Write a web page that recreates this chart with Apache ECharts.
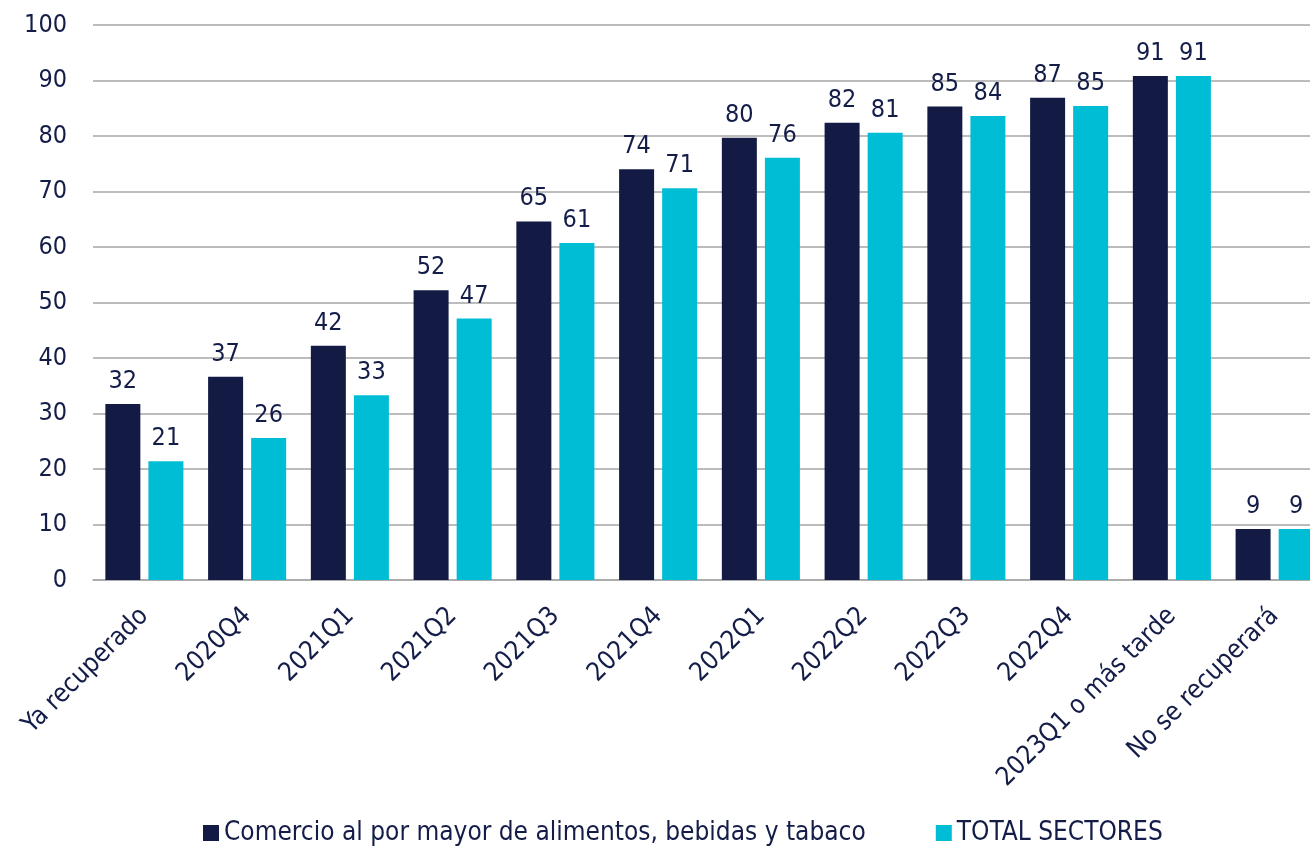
<!DOCTYPE html>
<html>
<head>
<meta charset="utf-8">
<script src="https://cdn.jsdelivr.net/npm/echarts@6/dist/echarts.min.js"></script>
<style>
  html, body { margin: 0; padding: 0; background: #fff; }
  #chart { width: 1310px; height: 846px; }
</style>
</head>
<body>
<div id="chart"></div>
<script>
var categories = ['Ya recuperado', '2020Q4', '2021Q1', '2021Q2', '2021Q3', '2021Q4',
  '2022Q1', '2022Q2', '2022Q3', '2022Q4', '2023Q1 o más tarde', 'No se recuperará']
var comercio = [31.7, 36.6, 42.2, 52.2, 64.6, 74.0, 79.7, 82.4, 85.3, 86.9, 90.8, 9.2]
var total = [21.4, 25.6, 33.3, 47.1, 60.7, 70.6, 76.1, 80.6, 83.6, 85.4, 90.8, 9.2]
var seriesNames = ['Comercio al por mayor de alimentos, bebidas y tabaco', 'TOTAL SECTORES']

var font = "Tahoma, 'DejaVu Sans Condensed', 'DejaVu Sans', sans-serif"
var textColor = '#141c48'

var myChart = echarts.init(document.getElementById('chart'))

// etiquetas encima de cada barra, redondeadas
var label = {
  show: true,
  position: 'top',
  distance: 10,
  color: textColor,
  fontFamily: font,
  fontSize: 25,
  formatter: function (p) { return Math.round(p.value) }
}

var option = {
  color: ['#131b45', '#00bdd6'],
  textStyle: { fontFamily: font },
  // el área del gráfico sobresale por la derecha (la última barra queda cortada)
  grid: { left: 93, width: 1233, top: 25, height: 555, outerBoundsMode: 'none' },
  legend: {
    top: 815,
    left: 198,
    itemWidth: 16,
    itemHeight: 16,
    itemGap: 70,
    icon: 'rect',
    textStyle: { color: textColor, fontFamily: font, fontSize: 26 },
    data: seriesNames
  },
  xAxis: {
    type: 'category',
    data: categories,
    axisLine: { lineStyle: { color: '#a6a6a6', width: 1.5 } },
    axisTick: { show: false },
    axisLabel: {
      rotate: 45,
      interval: 0,
      margin: 32,
      color: textColor,
      fontFamily: font,
      fontSize: 26
    }
  },
  yAxis: {
    type: 'value',
    min: 0,
    max: 100,
    interval: 10,
    axisLine: { show: false },
    axisTick: { show: false },
    axisLabel: { margin: 26, color: textColor, fontFamily: font, fontSize: 25 },
    splitLine: { lineStyle: { color: '#a6a6a6', width: 1.5 } }
  },
  series: [
    {
      name: seriesNames[0],
      type: 'bar',
      barWidth: 35,
      barGap: '23%',
      data: comercio,
      label: label
    },
    {
      name: seriesNames[1],
      type: 'bar',
      barWidth: 35,
      data: total,
      label: label
    }
  ]
}
myChart.setOption(option)
</script>
</body>
</html>
